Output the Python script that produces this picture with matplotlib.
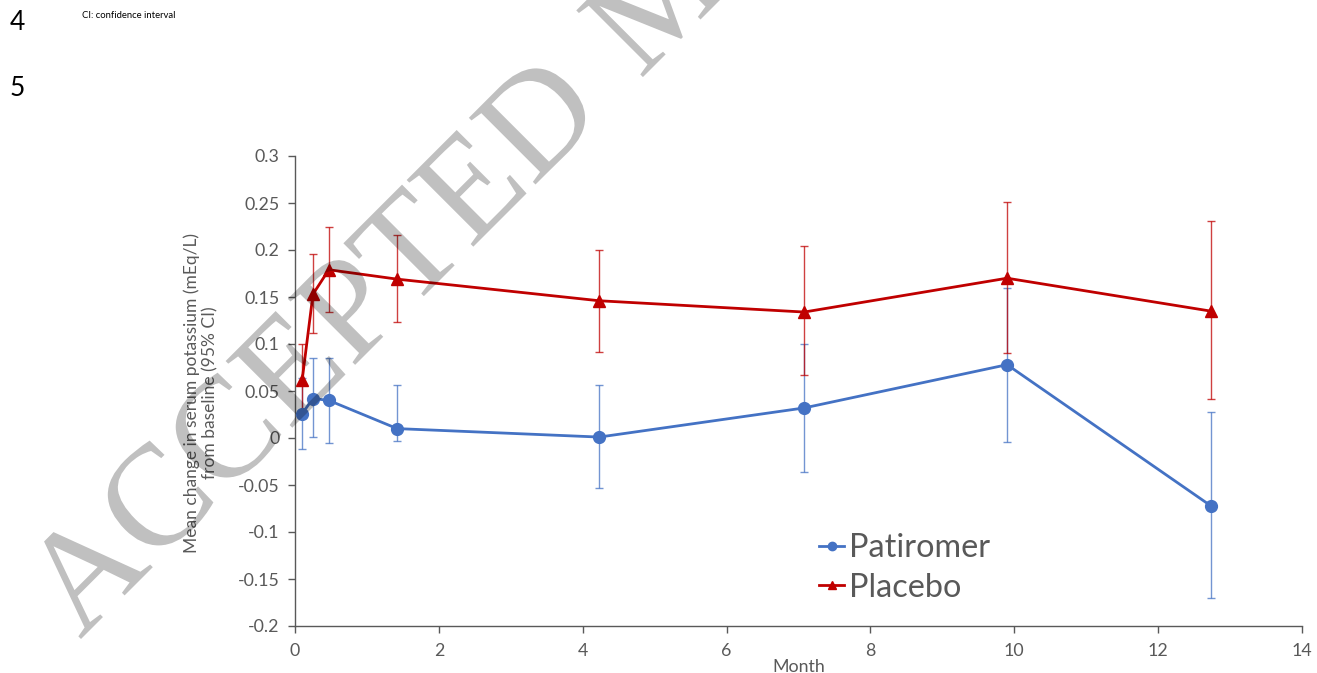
import matplotlib
matplotlib.use("Agg")
import matplotlib.pyplot as plt
from matplotlib.lines import Line2D
from matplotlib.textpath import TextPath
from matplotlib.font_manager import FontProperties
from matplotlib.patches import PathPatch
from matplotlib.transforms import Affine2D

plt.rcParams['font.family'] = ['Lato', 'DejaVu Sans']

# Study visits (months since randomisation)
months = [0.1, 0.25, 0.47, 1.42, 4.23, 7.08, 9.9, 12.73]

# Patiromer: mean change and 95% CI bounds (mEq/L)
patiromer_mean = [0.026, 0.042, 0.040, 0.010, 0.001, 0.032, 0.078, -0.072]
patiromer_low = [-0.012, 0.001, -0.005, -0.003, -0.053, -0.036, -0.004, -0.170]
patiromer_high = [0.064, 0.085, 0.085, 0.056, 0.056, 0.100, 0.160, 0.028]

# Placebo: mean change and 95% CI bounds (mEq/L)
placebo_mean = [0.062, 0.153, 0.179, 0.169, 0.146, 0.134, 0.170, 0.135]
placebo_low = [0.024, 0.112, 0.134, 0.123, 0.092, 0.067, 0.090, 0.042]
placebo_high = [0.100, 0.196, 0.224, 0.216, 0.200, 0.204, 0.251, 0.231]

x_ticks = [0, 2, 4, 6, 8, 10, 12, 14]
y_ticks = [-0.2, -0.15, -0.1, -0.05, 0, 0.05, 0.1, 0.15, 0.2, 0.25, 0.3]
y_tick_labels = ['-0.2', '-0.15', '-0.1', '-0.05', '0', '0.05', '0.1', '0.15', '0.2', '0.25', '0.3']

BLUE = '#4472C4'
RED = '#C00000'
GREY = '#595959'

W, H = 1317, 673
fig = plt.figure(figsize=(W / 100, H / 100), dpi=100)
ax = fig.add_axes([295 / W, 1 - 626 / H, (1302 - 295) / W, (626 - 156) / H])

def draw_series(mean, low, high, color, marker, ms):
    yerr = [[m - l for m, l in zip(mean, low)], [h - m for m, h in zip(mean, high)]]
    ax.errorbar(months, mean, yerr=yerr, fmt='none', ecolor=color, elinewidth=1.0,
                capsize=3, capthick=1.0, alpha=0.75, zorder=2)
    ax.plot(months, mean, color=color, lw=2, marker=marker, ms=ms,
            markeredgecolor=color, markerfacecolor=color, zorder=3)

draw_series(patiromer_mean, patiromer_low, patiromer_high, BLUE, 'o', 8.5)
draw_series(placebo_mean, placebo_low, placebo_high, RED, '^', 8.5)

ax.set_xlim(0, 14)
ax.set_ylim(-0.2, 0.3)
ax.set_xticks(x_ticks)
ax.set_xticklabels([str(v) for v in x_ticks])
ax.set_yticks(y_ticks)
ax.set_yticklabels(y_tick_labels)

for side in ('top', 'right'):
    ax.spines[side].set_visible(False)
for side in ('left', 'bottom'):
    ax.spines[side].set_color(GREY)
    ax.spines[side].set_linewidth(1.0)
ax.tick_params(axis='both', colors=GREY, labelcolor=GREY, labelsize=12.8,
               length=5, width=1.0, direction='out')
ax.tick_params(axis='x', pad=7)
ax.tick_params(axis='y', pad=6)

ax.set_xlabel('Month', fontsize=12.8, color=GREY, labelpad=0)
fig.text(201 / W, 1 - 393 / H,
         'Mean change in serum potassium (mEq/L)\nfrom baseline (95% CI)',
         rotation=90, ha='center', va='center', fontsize=12.5, color=GREY,
         multialignment='center', linespacing=1.15)

handles = [
    Line2D([], [], color=BLUE, lw=2, marker='o', ms=6),
    Line2D([], [], color=RED, lw=2, marker='^', ms=6),
]
fig.legend(handles, ['Patiromer', 'Placebo'], loc='upper left',
           bbox_to_anchor=(819 / W, 1 - 533 / H), frameon=False,
           fontsize=23.3, labelcolor=GREY, handlelength=0.78, handletextpad=0.15,
           labelspacing=0.3, borderpad=0, borderaxespad=0)

# Page furniture: line numbers and footnote
fig.text(10 / W, 1 - 22 / H, '4', fontsize=19, color='black', ha='left', va='center')
fig.text(10 / W, 1 - 88 / H, '5', fontsize=19, color='black', ha='left', va='center')
fig.text(82 / W, 1 - 16 / H, 'CI: confidence interval', fontsize=6.8, color='black',
         ha='left', va='center')

# Diagonal watermark in serif lettering, one word at a time along a 45° baseline
wm_font = FontProperties(family='Liberation Serif')
for word, (px, py) in (('ACCEPTED', (80, 640)), ('MANUSCRIPT', (640, 80))):
    path = TextPath((0, 0), word, size=144, prop=wm_font)
    tr = Affine2D().rotate_deg(45).translate(px, H - py)
    fig.add_artist(PathPatch(path, transform=tr, facecolor='black',
                             edgecolor='none', alpha=0.247, zorder=10))

fig.savefig('out.png', dpi=100)
